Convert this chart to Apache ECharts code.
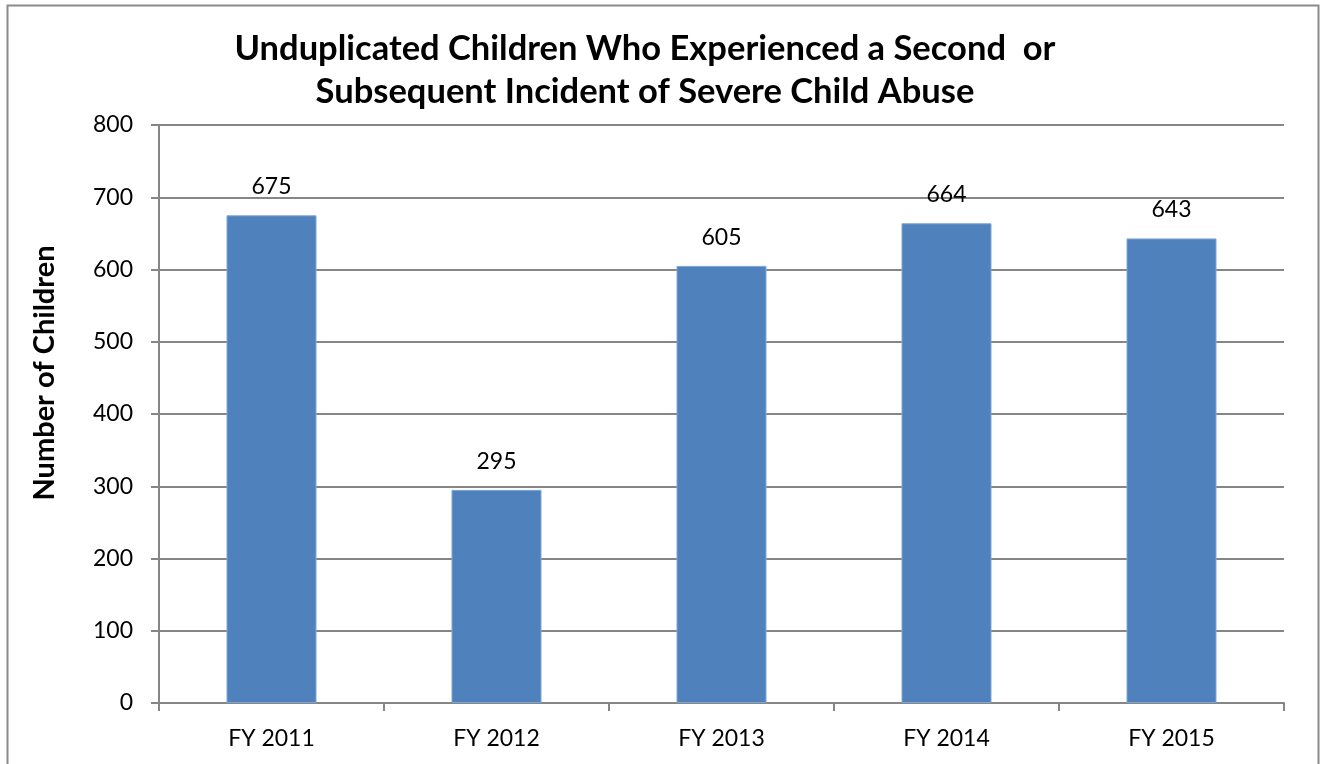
<!DOCTYPE html>
<html>
<head>
<meta charset="utf-8">
<script src="https://cdn.jsdelivr.net/npm/echarts@6/dist/echarts.min.js"></script>
<style>
  html, body { margin: 0; padding: 0; background: #fff; }
  #chart { width: 1325px; height: 764px; }
</style>
</head>
<body>
<div id="chart"></div>
<script>
// Fiscal-year categories and counts of children
const categories = ['FY 2011', 'FY 2012', 'FY 2013', 'FY 2014', 'FY 2015'];
const children = [675, 295, 605, 664, 643];
const yTicks = [0, 100, 200, 300, 400, 500, 600, 700, 800];

const FONT = 'Lato, "Open Sans", sans-serif';
const chart = echarts.init(document.getElementById('chart'));

chart.setOption({
  animation: false,
  backgroundColor: '#fff',
  title: {
    text: 'Unduplicated Children Who Experienced a Second  or\nSubsequent Incident of Severe Child Abuse',
    left: 640,
    top: 22,
    textAlign: 'center',
    textStyle: {
      fontFamily: FONT,
      fontWeight: 'bold',
      fontSize: 34.5,
      lineHeight: 43,
      color: '#000'
    }
  },
  graphic: [{
    type: 'rect',
    shape: { x: 7.5, y: 5.5, width: 1311, height: 820 },
    style: { fill: 'none', stroke: '#8a8a8a', lineWidth: 2 },
    silent: true
  }],
  grid: { left: 159, right: 41, top: 125, bottom: 61 },
  xAxis: {
    type: 'category',
    data: categories,
    axisLine: { lineStyle: { color: '#868686', width: 2 } },
    axisTick: { show: true, length: 8, alignWithLabel: false, lineStyle: { color: '#868686', width: 2 } },
    axisLabel: { fontFamily: FONT, fontSize: 23, color: '#000', margin: 24 }
  },
  yAxis: {
    type: 'value',
    min: yTicks[0],
    max: yTicks[yTicks.length - 1],
    interval: yTicks[1] - yTicks[0],
    name: 'Number of Children',
    nameLocation: 'middle',
    nameGap: 100,
    nameTextStyle: {
      fontFamily: FONT, fontWeight: 'bold', fontSize: 29, color: '#000',
      padding: [0, 0, 0, 82]
    },
    axisLine: { show: true, lineStyle: { color: '#868686', width: 2 } },
    axisTick: { show: true, length: 8, lineStyle: { color: '#868686', width: 2 } },
    splitLine: { lineStyle: { color: '#868686', width: 2 } },
    axisLabel: { fontFamily: FONT, fontSize: 23, color: '#000', margin: 26 }
  },
  series: [{
    type: 'bar',
    data: children,
    barWidth: '40%',
    itemStyle: { color: '#4F81BD', borderColor: '#7fa7d6', borderWidth: 1 },
    label: {
      show: true,
      position: 'top',
      distance: 17,
      fontFamily: FONT,
      fontSize: 23,
      color: '#000'
    }
  }]
});
</script>
</body>
</html>
